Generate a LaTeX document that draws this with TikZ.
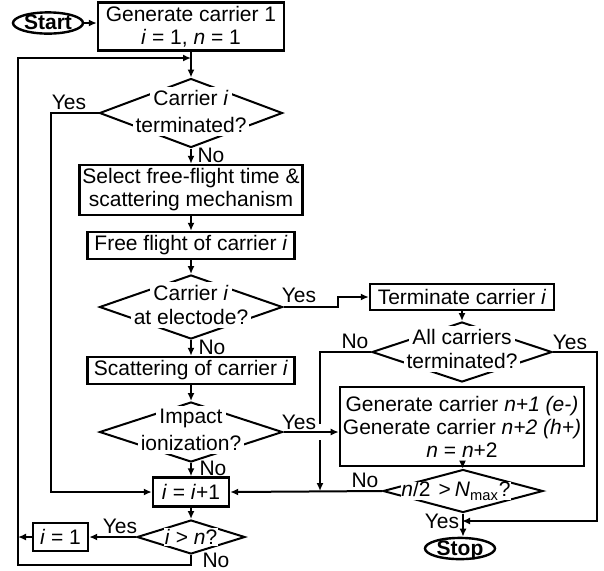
\documentclass[tikz,border=0pt]{standalone}
\usepackage{fontspec}
\setmainfont{Liberation Sans}
\usetikzlibrary{positioning,shapes.geometric,arrows.meta,calc}
\tikzset{
    % Process boxes
    process/.style={
        draw=black,
        line width=1.2pt,
        fill=white,
        align=center,
        inner sep=1.5pt,
        font=\fontsize{10.5}{11.5}\selectfont
    },
    % Start / stop ovals
    terminal/.style={
        ellipse,
        draw=black,
        line width=1.2pt,
        inner sep=0pt,
        text height=7pt,
        text depth=0.5pt,
        minimum width=35pt,
        minimum height=10.5pt,
        font=\bfseries\fontsize{10.5}{12}\selectfont
    },
    % Decision outlines
    decision/.style={
        diamond,
        draw=black,
        line width=1pt,
        inner sep=0pt
    },
    % Text on decisions (white patch cuts the outline)
    dtext/.style={
        fill=white,
        inner sep=1.5pt,
        font=\fontsize{10.5}{12}\selectfont
    },
    % Yes / No labels
    answer/.style={
        inner sep=0pt,
        font=\fontsize{10.5}{12}\selectfont
    },
    % Arrows
    flow/.style={
        -{Latex[length=4pt,width=3.5pt]},
        line width=1pt
    },
    plain/.style={
        line width=1pt
    }
}

\begin{document}
\begin{tikzpicture}[x=0.5pt,y=-0.5pt]

\useasboundingbox (0,0) rectangle (604,570);

% === MAIN COLUMN ===
\node[terminal] (start) at (48,23) {Start};
\node[process, minimum width=93pt, minimum height=24pt] (gen1) at (191,26.5) {
    Generate carrier 1\\
    \textit{i} = 1, \textit{n} = 1
};

\node[decision, minimum width=91.5pt, minimum height=34.5pt] (term1) at (191,113) {};
\node[dtext] at (191,98) {Carrier \textit{i}};
\node[dtext] at (191,125) {terminated?};

\node[process, minimum width=111pt, minimum height=25pt] (select) at (191,190) {
    Select free-flight time \&\\
    scattering mechanism
};
\node[process, minimum width=103.5pt, minimum height=13.5pt] (flight) at (191,245.5) {Free flight of carrier \textit{i}};

\node[decision, minimum width=91.5pt, minimum height=32pt] (elec) at (191,307) {};
\node[dtext] at (191,293) {Carrier \textit{i}};
\node[dtext] at (191,317) {at electode?};

\node[process, minimum width=103.5pt, minimum height=13.5pt] (scatter) at (191,370.5) {Scattering of carrier \textit{i}};

\node[decision, minimum width=91.5pt, minimum height=30pt] (impact) at (191,432) {};
\node[dtext] at (191,418) {Impact};
\node[dtext] at (191,443) {ionization?};

\node[process, minimum width=38pt, minimum height=14.5pt] (inc) at (191,492) {\textit{i} = \textit{i}+1};

\node[decision, minimum width=54pt, minimum height=17pt] (last) at (191,537) {};
\node[dtext, inner sep=0.5pt] at (191,537) {\textit{i} > \textit{n}?};

\node[process, minimum width=27.5pt, minimum height=14pt] (reset) at (60.5,537) {\textit{i} = 1};

% === RIGHT COLUMN ===
\node[process, minimum width=92pt, minimum height=13pt] (kill) at (462,297) {Terminate carrier \textit{i}};

\node[decision, minimum width=90pt, minimum height=30pt] (alldone) at (462,352) {};
\node[dtext] at (462,337) {All carriers};
\node[dtext] at (462,361) {terminated?};

\node[process, minimum width=122pt, minimum height=39.5pt] (gen2) at (462,426.5) {
    Generate carrier \textit{n+1 (e-)}\\
    Generate carrier \textit{n+2 (h+)}\\
    \textit{n} = \textit{n}+2
};

\node[decision, minimum width=80pt, minimum height=21.5pt] (nmax) at (463,491) {};
\node[dtext, inner sep=0pt] at (456,491) {\textit{n}/2\hspace{4pt}>\hspace{2pt}\textit{N}\textsubscript{max}?};

\node[terminal] (stop) at (460,548.5) {Stop};

% === HELPER POINTS ===
\coordinate (loopin) at (191,58);
\coordinate (loopbot) at (18,565);
\coordinate (hop) at (320,432);
\coordinate (join) at (462,521);

% === CONNECTORS ===
\draw[flow] (start.east) -- (start.east -| gen1.west);
\draw[flow] (gen1) -- (term1);
\draw[flow] (term1) -- (select);
\draw[flow] (select) -- (flight);
\draw[flow] (flight) -- (elec);
\draw[flow] (elec) -- (scatter);
\draw[flow] (scatter) -- (impact);
\draw[flow] (impact) -- (inc);
\draw[flow] (inc) -- (last);

\draw[flow] (term1.west) -- ++(-48,0) |- (inc.west);
\draw[flow] (last.south) |- (loopbot) |- (loopin);
\draw[flow] (last.west) -- (reset.east);
\draw[flow] (reset.west) -- (reset.west -| loopbot);

\draw[flow] (elec.east) -- ++(54,0) |- (kill.west);
\draw[flow] (impact.east) -- (impact.east -| gen2.west);
\draw[flow] (kill) -- (alldone);
\draw[plain] (alldone.west) -| ($(hop)+(0,-8)$);
\draw[flow] ($(hop)+(0,8)$) -- (hop |- nmax.west);
\draw[flow] (alldone.east) -- ++(44,0) |- (join);
\draw[flow] (gen2) -- (nmax);
\draw[flow] (nmax.west) -- (inc.east);
\draw[flow] (nmax.south) -- (nmax.south |- stop.north);

% === YES / NO LABELS ===
\node[answer] at (69,102) {Yes};
\node[answer] at (211,155) {No};
\node[answer] at (299,295) {Yes};
\node[answer] at (212,347) {No};
\node[answer] at (299,422) {Yes};
\node[answer] at (213,468) {No};
\node[answer] at (120,526) {Yes};
\node[answer] at (216,560) {No};
\node[answer] at (355,341) {No};
\node[answer] at (570,342) {Yes};
\node[answer] at (365,480) {No};
\node[answer] at (442,521) {Yes};

\end{tikzpicture}
\end{document}
